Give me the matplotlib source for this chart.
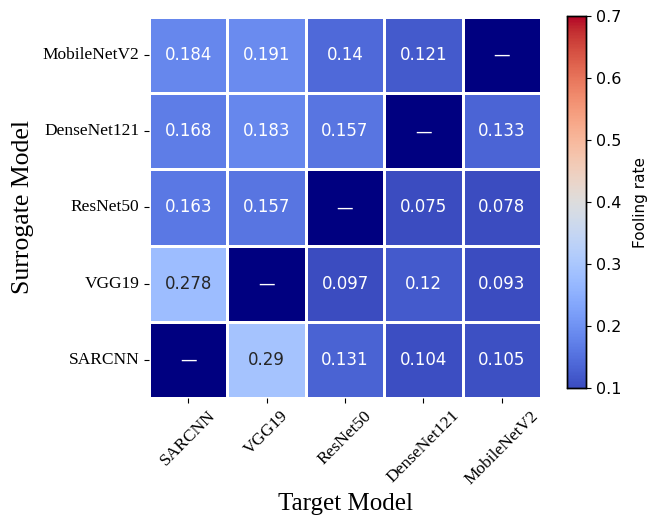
import numpy as np
import matplotlib
matplotlib.use("Agg")
import matplotlib.pyplot as plt
from matplotlib.colors import ListedColormap
import seaborn as sns

surrogate = ["MobileNetV2", "DenseNet121", "ResNet50", "VGG19", "SARCNN"]
target = ["SARCNN", "VGG19", "ResNet50", "DenseNet121", "MobileNetV2"]
# NaN marks the self-attack (diagonal) cells
values = [
    [0.184, 0.191, 0.140, 0.121, np.nan],
    [0.168, 0.183, 0.157, np.nan, 0.133],
    [0.163, 0.157, np.nan, 0.075, 0.078],
    [0.278, np.nan, 0.097, 0.120, 0.093],
    [np.nan, 0.290, 0.131, 0.104, 0.105],
]
cbar_ticks = [0.1, 0.2, 0.3, 0.4, 0.5, 0.6, 0.7]

data = np.array(values, dtype=float)
diag = np.isnan(data)
labels = np.where(diag, "—", np.vectorize(lambda v: f"{v:.3g}")(np.nan_to_num(data)))

fig = plt.figure(figsize=(6.49, 5.16), dpi=100)
ax = fig.add_axes([0.2296, 0.2287, 0.604, 0.7384])
cax = fig.add_axes([0.8732, 0.248, 0.0293, 0.721])

annot_kws = {"fontsize": 12, "family": "DejaVu Sans"}
sns.heatmap(data, mask=diag, ax=ax, cbar_ax=cax, cmap="coolwarm", vmin=0.1, vmax=0.7,
            annot=labels, fmt="", annot_kws=annot_kws,
            linewidths=0.8, linecolor="white",
            cbar_kws={"label": "Fooling rate", "ticks": cbar_ticks})
sns.heatmap(np.where(diag, 1.0, np.nan), mask=~diag, ax=ax, cbar=False,
            cmap=ListedColormap(["navy"]), vmin=0, vmax=1,
            annot=labels, fmt="", annot_kws=annot_kws,
            linewidths=0.8, linecolor="white")

ax.set_xticklabels(target, rotation=45, ha="center", fontsize=12.5, family="Liberation Serif")
ax.set_yticklabels(surrogate, rotation=0, fontsize=12.5, family="Liberation Serif")
ax.set_xlabel("Target Model", fontsize=18, family="Liberation Serif", labelpad=4)
ax.set_ylabel("Surrogate Model", fontsize=18.5, family="Liberation Serif", labelpad=6)

cax.tick_params(labelsize=11.5, pad=4)
cax.set_ylabel("Fooling rate", fontsize=11, labelpad=8)
for s in cax.spines.values():
    s.set_visible(True)
    s.set_linewidth(1)
    s.set_edgecolor("black")

fig.savefig("out.png", dpi=100)
